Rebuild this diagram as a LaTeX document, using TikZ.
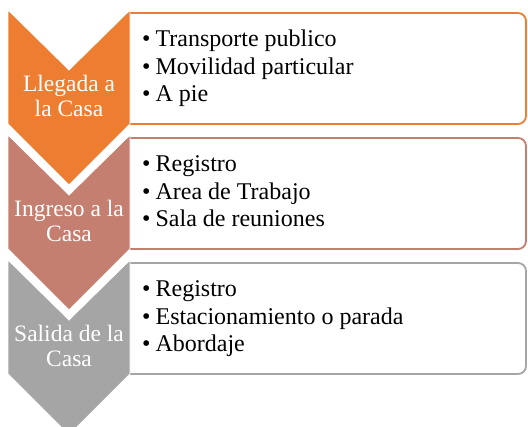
\documentclass[tikz,border=0pt]{standalone}
\usepackage{fontspec}
\setmainfont{Liberation Serif}
\definecolor{corange}{HTML}{ED7D31}
\definecolor{cbrown}{HTML}{C47F70}
\definecolor{cgray}{HTML}{A5A5A5}
\tikzset{
  chevtext/.style={text=white, inner sep=0pt, anchor=base, font=\fontsize{23.5}{25}\selectfont},
  listtext/.style={text=black, inner sep=0pt, anchor=base west, font=\fontsize{24}{27.5}\selectfont},
  listbox/.style={line width=1.8pt, fill=white, rounded corners=8pt},
}
\newcommand{\chevshape}[2]{%
  \fill[#1, draw=white, line width=0.8pt] (8,#2) -- (69,#2+60) -- (130,#2) -- (130,#2+114) -- (69,#2+175) -- (8,#2+114) -- cycle;}
\newcommand{\listframe}[2]{%
  \draw[listbox, draw=#1] (130,#2+3) -- (526,#2+3) -- (526,#2+114) -- (130,#2+114);}
\newcommand{\bul}{\textbullet\hspace{5pt}}
\begin{document}
\begin{tikzpicture}[x=1pt,y=-1pt]
\useasboundingbox (0,0) rectangle (528,427);
\clip (0,0) rectangle (528,427);
\fill[white] (0,0) rectangle (528,427);
% boxes
\listframe{corange}{10}
\listframe{cbrown}{135}
\listframe{cgray}{260}
% chevrons
\chevshape{corange}{10}
\chevshape{cbrown}{135}
\chevshape{cgray}{260}
% chevron labels
\node[chevtext] (c1) at (69,92) {\begin{tabular}[t]{@{}c@{}}Llegada a\\la Casa\end{tabular}};
\node[chevtext] (c2) at (69,217) {\begin{tabular}[t]{@{}c@{}}Ingreso a la\\Casa\end{tabular}};
\node[chevtext] (c3) at (69,342) {\begin{tabular}[t]{@{}c@{}}Salida de la\\Casa\end{tabular}};
% lists
\node[listtext] (l1) at (142,47) {\begin{tabular}[t]{@{}l@{}}\bul Transporte publico\\\bul Movilidad particular\\\bul A pie\end{tabular}};
\node[listtext] (l2) at (142,172) {\begin{tabular}[t]{@{}l@{}}\bul Registro\\\bul Area de Trabajo\\\bul Sala de reuniones\end{tabular}};
\node[listtext] (l3) at (142,297) {\begin{tabular}[t]{@{}l@{}}\bul Registro\\\bul Estacionamiento o parada\\\bul Abordaje\end{tabular}};
\end{tikzpicture}
\end{document}
